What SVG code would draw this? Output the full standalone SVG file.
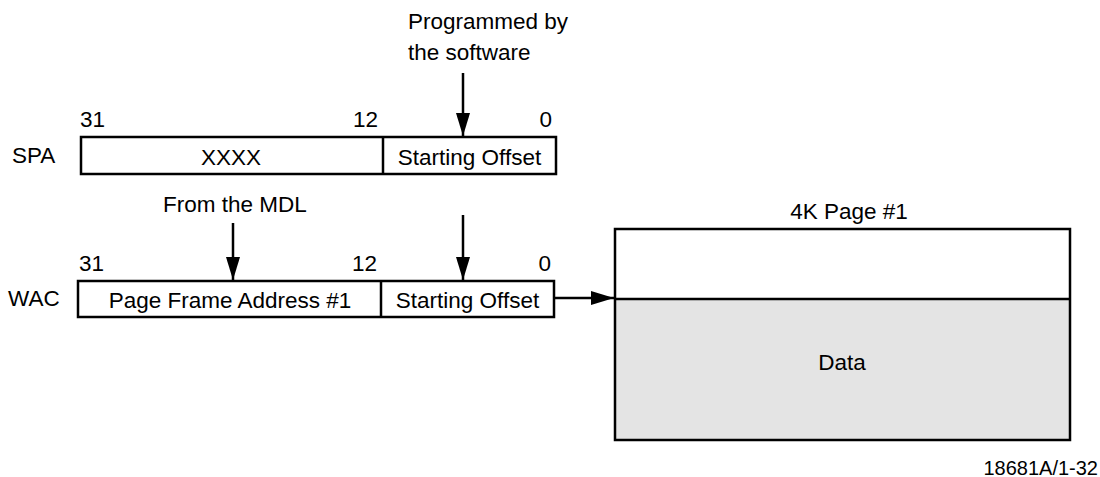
<svg xmlns="http://www.w3.org/2000/svg" width="1100" height="477" viewBox="0 0 1100 477">
<defs>
<marker id="ah" markerUnits="userSpaceOnUse" markerWidth="24" markerHeight="16" viewBox="0 0 24 16" refX="23" refY="8" orient="auto">
<path d="M0,1 L23,8 L0,15 Z" fill="#000"/>
</marker>
<style>
text{font-family:"Liberation Sans",Arial,Helvetica,sans-serif;font-size:22.5px;fill:#000}
.m{text-anchor:middle}
.e{text-anchor:end}
.box{fill:#fff;stroke:#000;stroke-width:2.5}
.ln{stroke:#000;stroke-width:2.5;fill:none}
.arr{stroke:#000;stroke-width:2.5;fill:none;marker-end:url(#ah)}
</style>
</defs>
<rect width="1100" height="477" fill="#fff"/>

<g id="spa">
<text x="12" y="163">SPA</text>
<rect class="box" x="81" y="137" width="475" height="37"/>
<line class="ln" x1="383" y1="137" x2="383" y2="174"/>
<text x="80" y="127">31</text>
<text class="e" x="378" y="127">12</text>
<text class="e" x="552" y="127">0</text>
<text class="m" x="231" y="165">XXXX</text>
<text class="m" x="469.5" y="165">Starting Offset</text>
</g>

<g id="wac">
<text x="8" y="306">WAC</text>
<rect class="box" x="78" y="281" width="476" height="36"/>
<line class="ln" x1="381" y1="281" x2="381" y2="317"/>
<text x="79" y="271">31</text>
<text class="e" x="377" y="271">12</text>
<text class="e" x="551" y="271">0</text>
<text class="m" x="230" y="308">Page Frame Address #1</text>
<text class="m" x="467.5" y="308">Starting Offset</text>
</g>

<g id="page">
<text class="m" x="849" y="219">4K Page #1</text>
<rect x="615" y="299" width="455" height="141" fill="#e4e4e4"/>
<rect x="615" y="229" width="455" height="211" fill="none" stroke="#000" stroke-width="2.5"/>
<line class="ln" x1="615" y1="299" x2="1070" y2="299"/>
<text class="m" x="842" y="370">Data</text>
</g>

<g id="labels">
<text x="408" y="29">Programmed by</text>
<text x="408" y="60">the software</text>
<text x="163" y="212">From the MDL</text>
<text class="e" x="1098" y="475" style="font-size:20px">18681A/1-32</text>
</g>

<g id="connectors">
<line class="arr" x1="463" y1="73" x2="463" y2="136"/>
<line class="arr" x1="233" y1="223" x2="233" y2="280"/>
<line class="arr" x1="463" y1="215" x2="463" y2="280"/>
<line class="arr" x1="554" y1="298" x2="614" y2="298"/>
</g>
</svg>
